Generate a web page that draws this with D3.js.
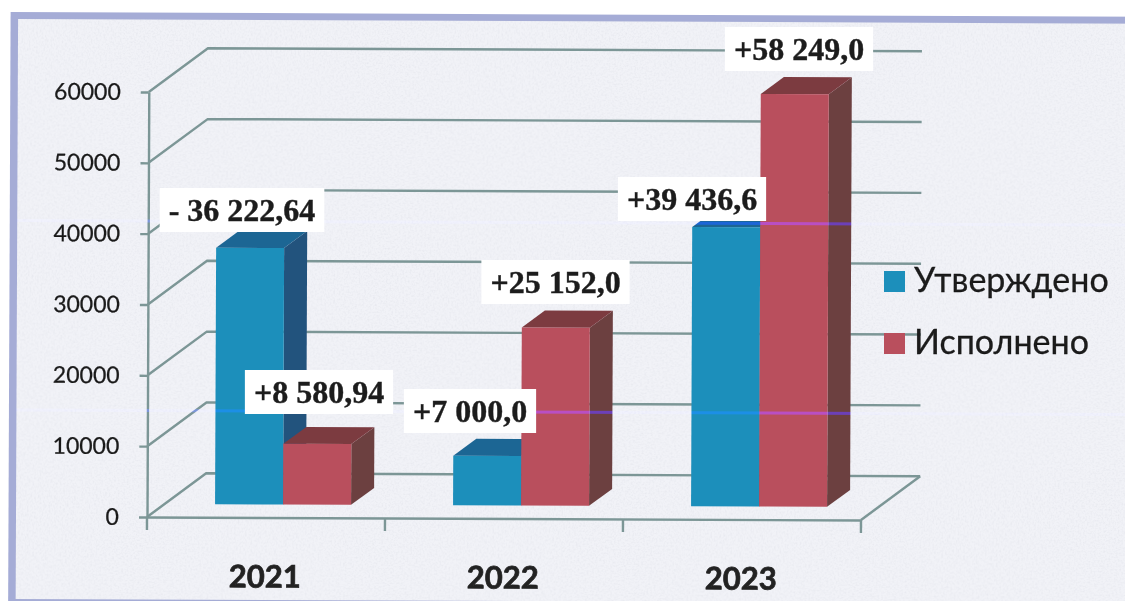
<html>
<head>
<meta charset="utf-8">
<script src="https://d3js.org/d3.v7.min.js"></script>
<style>
  html, body { margin: 0; padding: 0; background: #fff; overflow: hidden; }
</style>
</head>
<body>
<svg width="1125" height="601">
  <defs>
    <filter id="soft" x="-2%" y="-2%" width="104%" height="104%">
      <feGaussianBlur stdDeviation="0.55"></feGaussianBlur>
    </filter>
    <filter id="paper" x="0" y="0" width="100%" height="100%">
      <feTurbulence type="fractalNoise" baseFrequency="0.55" numOctaves="2" seed="4"></feTurbulence>
      <feColorMatrix type="matrix" values="0 0 0 0 0.42  0 0 0 0 0.44  0 0 0 0 0.52  0.9 0 0 0 -0.38"></feColorMatrix>
    </filter>
  </defs>
</svg>
<script>

var years = ["2021", "2022", "2023"];
var seriesNames = ["Утверждено", "Исполнено"];
var approved = [36222.64, 7000, 39436.6];
var executed = [8580.94, 25152, 58249];
var approvedLabels = ["- 36 222,64", "+7 000,0", "+39 436,6"];
var executedLabels = ["+8 580,94", "+25 152,0", "+58 249,0"];
var yTicks = [0, 10000, 20000, 30000, 40000, 50000, 60000];

var frontColors = ["#1f8fbb", "#b94f5d"];
var topColors = ["#1f6694", "#7c3b41"];
var sideColors = ["#24527d", "#6c4041"];
var gridColor = "#7c9696";

// 3d depth of the chart box and of the bars
var depthX = 59, depthY = -44;
var barDepthX = 23, barDepthY = -17;
var barLift = -13;

var svg = d3.select("svg");
var all = svg.append("g").attr("filter", "url(#soft)");

// the page was scanned a little crooked
var page = all.append("g").attr("transform", "rotate(0.24 147 517)");

page.append("rect").attr("x", 8.5).attr("y", 12.6).attr("width", 1200).attr("height", 620)
    .attr("fill", "#a5acd6");
page.append("rect").attr("x", 16).attr("y", 19.5).attr("width", 1200).attr("height", 580)
    .attr("fill", "#f1f2f7");
page.append("rect").attr("x", 16).attr("y", 19.5).attr("width", 1200).attr("height", 580)
    .attr("filter", "url(#paper)").attr("opacity", 0.35);

var x = d3.scaleBand().domain(years).range([147, 861]);
var xBar = d3.scaleBand().domain([0, 1]).range([68, 204]);
var y = d3.scaleLinear().domain([0, 60000]).range([517, 92]);
var heightOf = d3.scaleLinear().domain([0, 60000]).range([0, 425]);

// walls
var grid = page.append("g").attr("fill", "none").attr("stroke", gridColor).attr("stroke-width", 2.4);

grid.selectAll("path.wall")
    .data(yTicks)
    .join("path")
    .attr("class", "wall")
    .attr("d", d => "M147," + y(d) + "L" + (147 + depthX) + "," + (y(d) + depthY) + "H" + (861 + depthX));

grid.append("path").attr("d", "M861,517L" + (861 + depthX) + "," + (517 + depthY));

// axes
var yAxis = d3.axisLeft(y).tickValues(yTicks).tickFormat(d => d).tickSizeInner(8).tickSizeOuter(0).tickPadding(20);
var xAxis = d3.axisBottom(x).tickValues([]).tickSize(0);

var gy = page.append("g").attr("transform", "translate(147,0)").call(yAxis);
gy.select(".domain").attr("stroke", gridColor).attr("stroke-width", 2.4);
gy.selectAll(".tick line").attr("stroke", gridColor).attr("stroke-width", 2.4);
gy.selectAll("text")
    .attr("font-family", "Lato")
    .attr("font-size", 23)
    .attr("fill", "#1a1a1a")
    .attr("stroke", "#1a1a1a")
    .attr("stroke-width", 0.25);

var gx = page.append("g").attr("transform", "translate(0,517)").call(xAxis);
gx.select(".domain").attr("stroke", gridColor).attr("stroke-width", 2.4);

page.append("g").selectAll("line")
    .data(years.concat(["end"]))
    .join("line")
    .attr("x1", (d, i) => i < 3 ? x(d) : x(years[2]) + x.bandwidth())
    .attr("x2", (d, i) => i < 3 ? x(d) : x(years[2]) + x.bandwidth())
    .attr("y1", 517)
    .attr("y2", 530)
    .attr("stroke", gridColor)
    .attr("stroke-width", 2.4);

page.append("g").selectAll("text")
    .data(years)
    .join("text")
    .attr("x", d => x(d) + 118)
    .attr("y", 587)
    .attr("text-anchor", "middle")
    .attr("font-family", "Lato")
    .attr("font-weight", "bold")
    .attr("font-size", 31)
    .attr("fill", "#222")
    .attr("stroke", "#222")
    .attr("stroke-width", 0.7)
    .text(d => d);

// bars, back to front
var bars = [];
years.forEach(function(year, i) {
    bars.push({year: year, series: 0, value: approved[i], label: approvedLabels[i]});
    bars.push({year: year, series: 1, value: executed[i], label: executedLabels[i]});
});

var barW = xBar.bandwidth();
var barG = page.append("g").selectAll("g")
    .data(bars)
    .join("g")
    .attr("transform", d => "translate(" + (x(d.year) + xBar(d.series)) + "," + (517 + barLift) + ")");

barG.append("path")
    .attr("fill", d => sideColors[d.series])
    .attr("d", d => "M" + barW + ",0L" + (barW + barDepthX) + "," + barDepthY
        + "V" + (barDepthY - heightOf(d.value)) + "L" + barW + "," + (-heightOf(d.value)) + "Z");

barG.append("path")
    .attr("fill", d => topColors[d.series])
    .attr("d", d => "M0," + (-heightOf(d.value)) + "L" + barDepthX + "," + (barDepthY - heightOf(d.value))
        + "H" + (barW + barDepthX) + "L" + barW + "," + (-heightOf(d.value)) + "Z");

barG.append("rect")
    .attr("fill", d => frontColors[d.series])
    .attr("y", d => -heightOf(d.value))
    .attr("width", barW)
    .attr("height", d => heightOf(d.value));

// scanner streaks, only really show on the dark bars
page.append("g").selectAll("line")
    .data([221, 410.5])
    .join("line")
    .attr("x1", 16)
    .attr("x2", 1125)
    .attr("y1", d => d)
    .attr("y2", d => d)
    .attr("stroke", "#0000a0")
    .attr("stroke-width", 3)
    .style("mix-blend-mode", "screen");

// value labels sit where somebody pasted them by hand
var labelPos = {
    "- 36 222,64": [242, 221],
    "+8 580,94": [319, 403],
    "+7 000,0": [470, 422],
    "+25 152,0": [555.5, 293],
    "+39 436,6": [692, 210],
    "+58 249,0": [799, 60]
};

var labels = all.append("g").selectAll("g")
    .data(bars)
    .join("g")
    .attr("transform", d => "translate(" + labelPos[d.label][0] + "," + labelPos[d.label][1] + ")");

var labelText = labels.append("text")
    .attr("text-anchor", "middle")
    .attr("font-family", "Liberation Serif")
    .attr("font-weight", "bold")
    .attr("font-size", 32)
    .attr("fill", "#1c1c1c")
    .attr("stroke", "#1c1c1c")
    .attr("stroke-width", 0.4)
    .text(d => d.label);

labels.insert("rect", "text")
    .attr("fill", "#fff")
    .attr("x", function(d, i) { return -labelText.nodes()[i].getComputedTextLength() / 2 - 9; })
    .attr("y", -33)
    .attr("width", function(d, i) { return labelText.nodes()[i].getComputedTextLength() + 18; })
    .attr("height", 44);

// legend
var legend = all.append("g").selectAll("g")
    .data(seriesNames)
    .join("g")
    .attr("transform", (d, i) => "translate(884," + (271 + i * 62) + ")");

legend.append("rect")
    .attr("width", 21)
    .attr("height", 21)
    .attr("fill", (d, i) => frontColors[i]);

legend.append("text")
    .attr("x", 30)
    .attr("y", 21)
    .attr("font-family", "Lato")
    .attr("font-size", 34)
    .attr("fill", "#1a1a1a")
    .attr("stroke", "#1a1a1a")
    .attr("stroke-width", 0.3)
    .text(d => d);

</script>
</body>
</html>
